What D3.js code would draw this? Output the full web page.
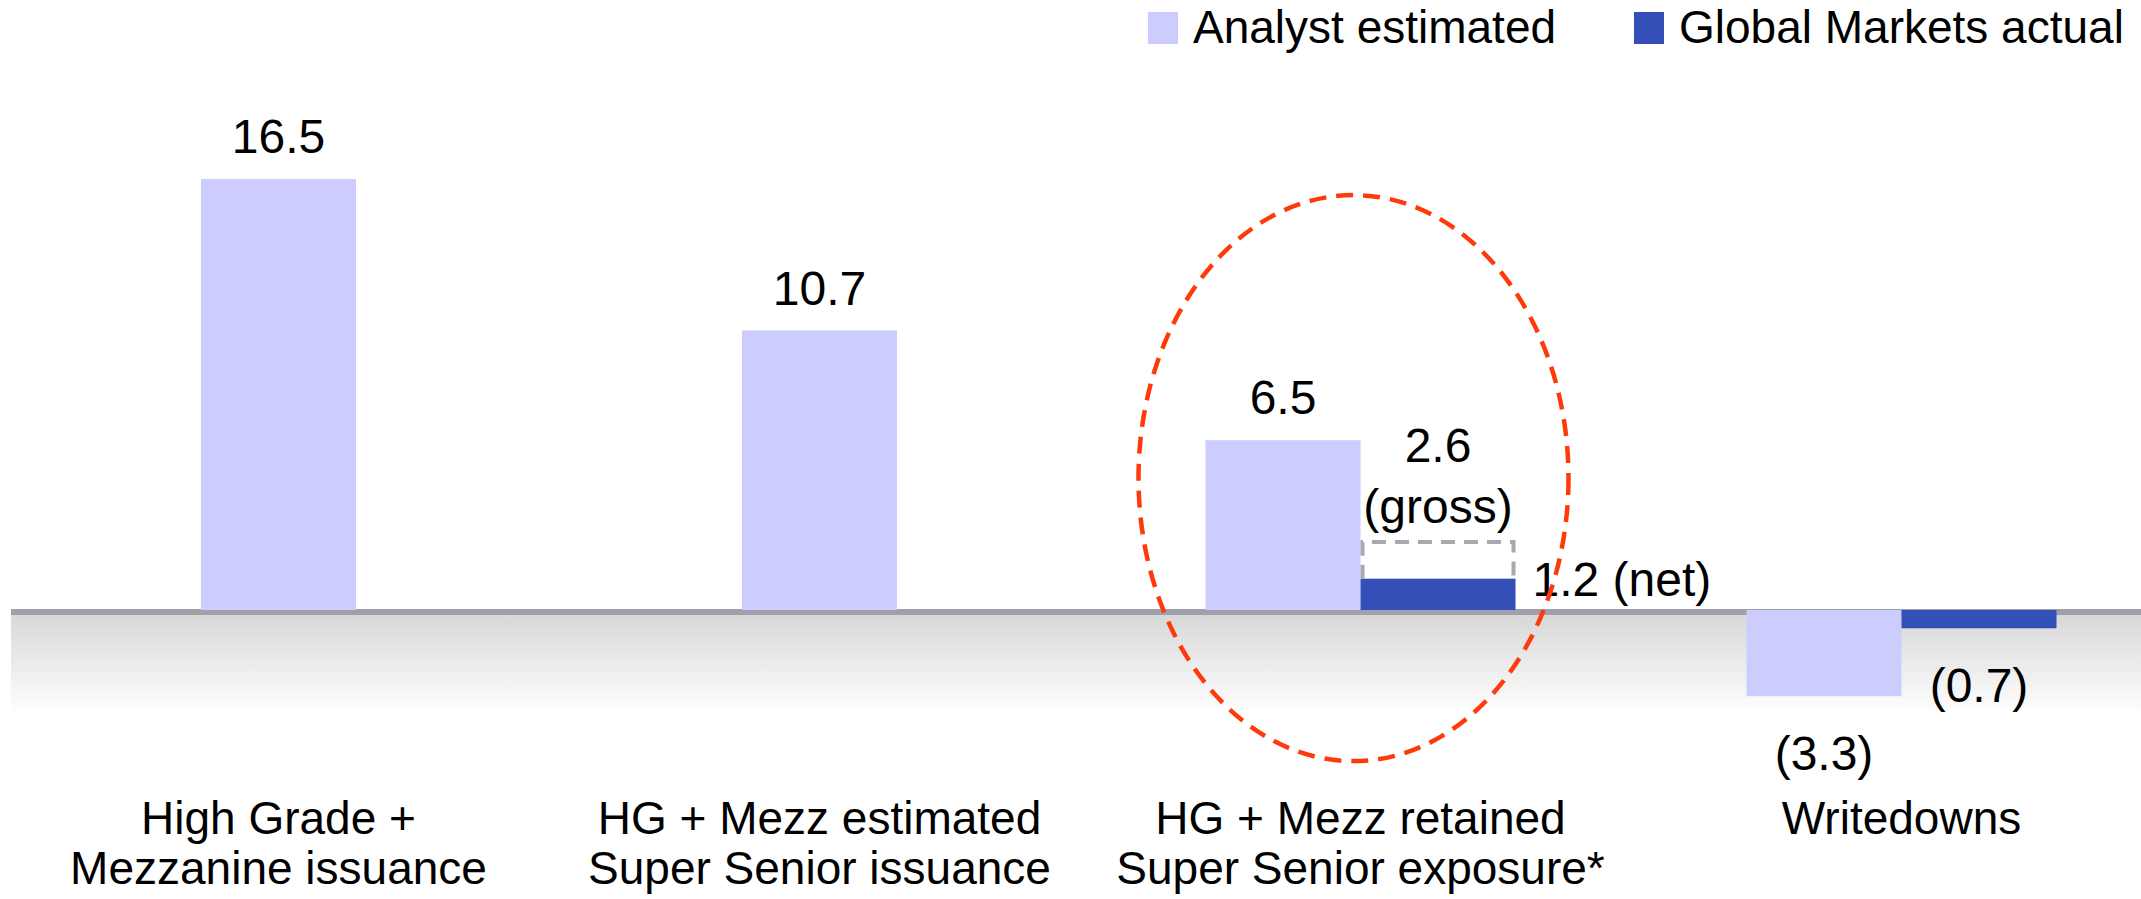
<!DOCTYPE html>
<html>
  <head>
    <meta charset="utf-8">
    <title>Super Senior exposure</title>
    <script src="https://cdn.jsdelivr.net/npm/d3@7"></script>
    <style>
      body { margin: 0; background: #fff; }
      text { font-family: "Liberation Sans", Arial, sans-serif; fill: #000; }
    </style>
  </head>
  <body>
    <svg id="chart"></svg>
    <script>
// values
let categories = [
  ['High Grade +', 'Mezzanine issuance'],
  ['HG + Mezz estimated', 'Super Senior issuance'],
  ['HG + Mezz retained', 'Super Senior exposure*'],
  ['Writedowns']
];
let analystValues = [16.5, 10.7, 6.5, -3.3];
let actualValues = [null, null, 1.2, -0.7];
let grossValues = [null, null, 2.6, null];
let seriesNames = ['Analyst estimated', 'Global Markets actual'];
let seriesColors = ['#ccccff', '#354fb8'];

let width = 2141,
    height = 899,
    barW = 155;

let svg = d3.select('#chart')
  .attr('width', width)
  .attr('height', height);

let x = d3.scaleBand()
  .domain(d3.range(categories.length))
  .range([8, 8 + 541 * categories.length])
  .padding(0);

let y = d3.scaleLinear()
  .domain([0, 16.5])
  .range([610, 179]);

let fmt = v => v < 0 ? '(' + Math.abs(v).toFixed(1) + ')' : v.toFixed(1);

// zero line with the shaded band underneath
let defs = svg.append('defs');
let grad = defs.append('linearGradient')
  .attr('id', 'shade')
  .attr('x1', 0).attr('y1', 0).attr('x2', 0).attr('y2', 1);
grad.append('stop').attr('offset', '0%').attr('stop-color', '#d8d8d8');
grad.append('stop').attr('offset', '100%').attr('stop-color', '#ffffff');

svg.append('rect')
  .attr('x', 11).attr('y', y(0) + 5)
  .attr('width', width - 11).attr('height', 100)
  .attr('fill', 'url(#shade)');
svg.append('rect')
  .attr('x', 11).attr('y', y(0) - 1)
  .attr('width', width - 11).attr('height', 6)
  .attr('fill', '#a0a0aa');

// bar layout: single bar centred, pairs side by side
let bars = [];
categories.forEach(function(c, i) {
  let cx = x(i) + x.bandwidth() / 2;
  let paired = actualValues[i] !== null;
  bars.push({i: i, s: 0, v: analystValues[i], x0: paired ? cx - barW : cx - barW / 2});
  if (paired) bars.push({i: i, s: 1, v: actualValues[i], x0: cx});
});

svg.selectAll('.bar')
  .data(bars)
  .enter()
  .append('rect')
  .attr('class', 'bar')
  .attr('x', d => d.x0)
  .attr('y', d => d.v >= 0 ? y(d.v) : y(0))
  .attr('width', barW)
  .attr('height', d => Math.abs(y(d.v) - y(0)))
  .attr('fill', d => seriesColors[d.s]);

// gross outline above the net bar
bars.filter(d => d.s === 1 && grossValues[d.i] !== null).forEach(function(d) {
  let g = grossValues[d.i];
  svg.append('path')
    .attr('d', 'M' + (d.x0 + 2) + ',' + y(d.v) + 'V' + y(g) + 'H' + (d.x0 + barW - 2) + 'V' + y(d.v))
    .attr('fill', 'none')
    .attr('stroke', '#a8a8b0')
    .attr('stroke-width', 4)
    .attr('stroke-dasharray', '14 9');

  let cx = d.x0 + barW / 2;
  svg.append('text')
    .attr('x', cx).attr('y', y(g) - 80)
    .attr('text-anchor', 'middle')
    .style('font-size', '48px')
    .text(fmt(g));
  svg.append('text')
    .attr('x', cx).attr('y', y(g) - 19)
    .attr('text-anchor', 'middle')
    .style('font-size', '48px')
    .text('(gross)');
});

// value labels
svg.selectAll('.value')
  .data(bars)
  .enter()
  .append('text')
  .attr('class', 'value')
  .style('font-size', '48px')
  .attr('text-anchor', d => (d.s === 1 && d.v > 0) ? 'start' : 'middle')
  .attr('x', function(d) {
    if (d.s === 1 && d.v > 0) return d.x0 + barW + 17;
    return d.x0 + barW / 2;
  })
  .attr('y', function(d) {
    if (d.s === 1 && d.v > 0) return y(d.v) + 17;
    return d.v >= 0 ? y(d.v) - 26 : y(d.v) + 74;
  })
  .text(d => (d.s === 1 && d.v > 0) ? fmt(d.v) + ' (net)' : fmt(d.v));

// category labels
categories.forEach(function(lines, i) {
  let t = svg.append('text')
    .attr('text-anchor', 'middle')
    .style('font-size', '46px')
    .attr('x', x(i) + x.bandwidth() / 2)
    .attr('y', 834);
  lines.forEach(function(line, k) {
    t.append('tspan')
      .attr('x', x(i) + x.bandwidth() / 2)
      .attr('dy', k === 0 ? 0 : 50)
      .text(line);
  });
});

// dashed ellipse around the retained exposure group
let hi = 2;
svg.append('ellipse')
  .attr('cx', x(hi) + x.bandwidth() / 2 - 7)
  .attr('cy', (y(0) + y(analystValues[hi])) / 2 - 47)
  .attr('rx', 215)
  .attr('ry', 283)
  .attr('fill', 'none')
  .attr('stroke', '#ff3a0a')
  .attr('stroke-width', 4.5)
  .attr('stroke-dasharray', '17 10');

// legend
let legendX = [1148, 1634];
let legend = svg.selectAll('.legend')
  .data(seriesNames)
  .enter()
  .append('g')
  .attr('class', 'legend')
  .attr('transform', (d, i) => 'translate(' + legendX[i] + ',0)');
legend.append('rect')
  .attr('x', 0).attr('y', 12)
  .attr('width', 30).attr('height', 32)
  .attr('fill', (d, i) => seriesColors[i]);
legend.append('text')
  .attr('x', 45).attr('y', 43)
  .style('font-size', '46px')
  .text(d => d);
    </script>
  </body>
</html>
